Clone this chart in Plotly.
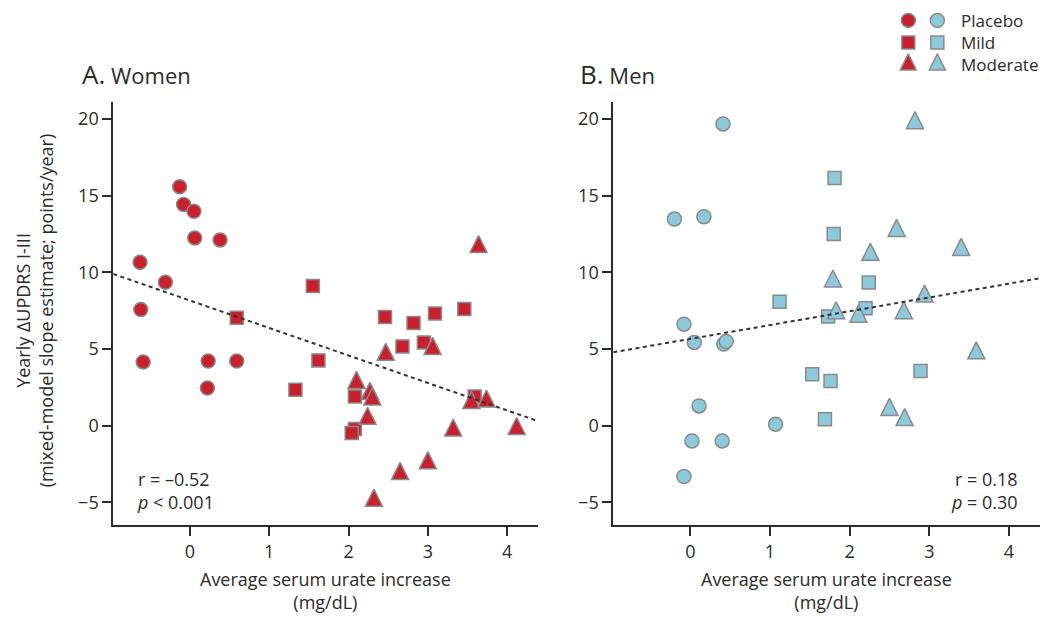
import plotly.graph_objects as go

# ---------------- data ----------------
# Women (panel A)
women_placebo_x = [-0.13, -0.08, 0.05, 0.06, 0.38, -0.63, -0.31, -0.62, -0.59, 0.23, 0.59, 0.22]
women_placebo_y = [15.57, 14.42, 13.98, 12.24, 12.11, 10.65, 9.35, 7.57, 4.16, 4.22, 4.22, 2.46]

women_mild_x = [0.59, 1.55, 1.62, 1.33, 2.08, 2.08, 2.04, 2.46, 2.82, 3.09, 3.46, 2.68, 2.95, 3.59]
women_mild_y = [7.03, 9.11, 4.26, 2.35, 1.91, -0.22, -0.48, 7.09, 6.70, 7.31, 7.61, 5.17, 5.43, 1.91]

women_mod_x = [2.47, 3.06, 2.10, 2.27, 2.30, 2.24, 3.32, 4.12, 3.00, 2.65, 2.32, 3.55, 3.74, 3.64]
women_mod_y = [4.63, 5.02, 2.80, 2.09, 1.72, 0.46, -0.30, -0.20, -2.43, -3.13, -4.87, 1.50, 1.59, 11.66]

# Men (panel B)
men_placebo_x = [0.41, -0.20, 0.17, -0.08, 0.05, 0.42, 0.45, 0.11, 1.07, 0.02, 0.40, -0.08]
men_placebo_y = [19.67, 13.47, 13.62, 6.62, 5.43, 5.32, 5.49, 1.29, 0.10, -0.99, -0.99, -3.31]

men_mild_x = [1.81, 1.80, 2.24, 1.12, 1.73, 2.20, 1.53, 1.76, 2.89, 1.69]
men_mild_y = [16.14, 12.49, 9.34, 8.08, 7.12, 7.65, 3.36, 2.92, 3.57, 0.42]

men_mod_x = [2.82, 2.59, 2.26, 3.40, 1.79, 2.94, 1.83, 2.11, 2.68, 3.59, 2.50, 2.69]
men_mod_y = [19.73, 12.71, 11.15, 11.47, 9.41, 8.43, 7.34, 7.12, 7.34, 4.73, 1.04, 0.38]

# regression lines (intercept, slope)
women_fit = (8.16, -1.79)
men_fit = (5.66, 0.90)

women_stats = ["r = \u20130.52", "<i>p</i> &lt; 0.001"]
men_stats = ["r = 0.18", "<i>p</i> = 0.30"]

x_ticks = [0, 1, 2, 3, 4]
y_ticks = [-5, 0, 5, 10, 15, 20]
x_range = [-0.967, 4.39]
y_range = [-6.5, 21.1]

groups = ["Placebo", "Mild", "Moderate"]

# ---------------- style ----------------
RED = "#C8202C"
BLUE = "#8CCADB"
EDGE = "#8A8A8A"
INK = "#2B2B2B"
FONT = "Open Sans"

TRI_SIZE = 17
sym = {
    "circle": dict(symbol="circle", size=14),
    "square": dict(symbol="square", size=13),
    "triangle": dict(symbol="arrow-down", angle=180, size=TRI_SIZE, standoff=TRI_SIZE / 2 * 4 / 3),
}

fig = go.Figure()


def add_pts(x, y, shape, color, xa, ya):
    m = dict(sym[shape])
    m.update(color=color, line=dict(color=EDGE, width=1.5))
    fig.add_trace(go.Scatter(x=x, y=y, mode="markers", marker=m, xaxis=xa, yaxis=ya,
                             showlegend=False, cliponaxis=False, hoverinfo="x+y"))


def add_fit(fit, xa, ya):
    b0, b1 = fit
    xs = list(x_range)
    ys = [b0 + b1 * v for v in xs]
    fig.add_trace(go.Scatter(x=xs, y=ys, mode="lines", xaxis=xa, yaxis=ya, showlegend=False,
                             line=dict(color="#333333", width=2, dash="4px,3.5px"), hoverinfo="skip"))


# panel A
add_pts(women_placebo_x, women_placebo_y, "circle", RED, "x", "y")
add_pts(women_mild_x, women_mild_y, "square", RED, "x", "y")
add_pts(women_mod_x, women_mod_y, "triangle", RED, "x", "y")
add_fit(women_fit, "x", "y")

# panel B
add_pts(men_placebo_x, men_placebo_y, "circle", BLUE, "x2", "y2")
add_pts(men_mild_x, men_mild_y, "square", BLUE, "x2", "y2")
add_pts(men_mod_x, men_mod_y, "triangle", BLUE, "x2", "y2")
add_fit(men_fit, "x2", "y2")

# legend (custom, two marker columns) in an invisible helper axis
for col, color in enumerate([RED, BLUE]):
    for row, shape in enumerate(["circle", "square", "triangle"]):
        m = dict(sym[shape])
        if shape == "triangle":
            m["size"] = 16
            m["standoff"] = 16 / 2 * 4 / 3
        m.update(color=color, line=dict(color=EDGE, width=1.5))
        fig.add_trace(go.Scatter(x=[col], y=[2 - row], mode="markers", marker=m,
                                 xaxis="x3", yaxis="y3", showlegend=False, cliponaxis=False,
                                 hoverinfo="skip"))

axis_common = dict(
    showline=True, linecolor=INK, linewidth=2, ticks="outside", ticklen=9, tickwidth=2,
    tickcolor=INK, showgrid=False, zeroline=False, mirror=False,
    tickfont=dict(family=FONT, size=18, color=INK),
)

fig.update_layout(
    width=1048, height=618,
    margin=dict(l=0, r=0, t=0, b=0),
    paper_bgcolor="white", plot_bgcolor="white",
    font=dict(family=FONT, color=INK),
    xaxis=dict(domain=[0.1081, 0.5134], range=x_range, tickvals=x_ticks, anchor="y", **axis_common),
    yaxis=dict(domain=[0.1497, 0.835], range=y_range, tickvals=y_ticks, anchor="x", **axis_common),
    xaxis2=dict(domain=[0.5852, 0.9924], range=x_range, tickvals=x_ticks, anchor="y2", **axis_common),
    yaxis2=dict(domain=[0.1497, 0.835], range=y_range, tickvals=y_ticks, anchor="x2", **axis_common),
    xaxis3=dict(domain=[0.8667, 0.8944], range=[0, 1], visible=False, anchor="y3"),
    yaxis3=dict(domain=[0.8955, 0.9670], range=[0, 2], visible=False, anchor="x3"),
    showlegend=False,
)

ann = []
# legend labels (one text block, one line per group)
ann.append(dict(x=0.916, y=0.93125, xref="paper", yref="paper", text="<br>".join(groups),
                showarrow=False, xanchor="left", yanchor="middle", align="left",
                borderpad=0, font=dict(family=FONT, size=17, color=INK)))
# panel titles
ann.append(dict(x=0.0763, y=0.880, xref="paper", yref="paper",
                text="<span style='font-size:26px'>A.</span> Women", showarrow=False,
                xanchor="left", yanchor="middle", font=dict(family=FONT, size=22, color=INK)))
ann.append(dict(x=0.5515, y=0.880, xref="paper", yref="paper",
                text="<span style='font-size:26px'>B.</span> Men", showarrow=False,
                xanchor="left", yanchor="middle", font=dict(family=FONT, size=22, color=INK)))
# stats
ann.append(dict(x=0.1288, y=0.207, xref="paper", yref="paper", text="<br>".join(women_stats),
                showarrow=False, xanchor="left", yanchor="middle", align="left",
                font=dict(family=FONT, size=18, color=INK)))
ann.append(dict(x=0.9733, y=0.207, xref="paper", yref="paper", text="<br>".join(men_stats),
                showarrow=False, xanchor="right", yanchor="middle", align="right",
                font=dict(family=FONT, size=18, color=INK)))
# axis titles
xt = "Average serum urate increase<br>(mg/dL)"
ann.append(dict(x=0.3109, y=0.0437, xref="paper", yref="paper", text=xt, showarrow=False,
                xanchor="center", yanchor="middle", font=dict(family=FONT, size=18, color=INK)))
ann.append(dict(x=0.7888, y=0.0437, xref="paper", yref="paper", text=xt, showarrow=False,
                xanchor="center", yanchor="middle", font=dict(family=FONT, size=18, color=INK)))
ann.append(dict(x=0.0324, y=0.498, xref="paper", yref="paper",
                text="Yearly \u0394UPDRS I-III<br>(mixed-model slope estimate; points/year)",
                showarrow=False, textangle=-90, xanchor="center", yanchor="middle",
                font=dict(family=FONT, size=18, color=INK)))
fig.update_layout(annotations=ann)

fig.write_html("out.html")
